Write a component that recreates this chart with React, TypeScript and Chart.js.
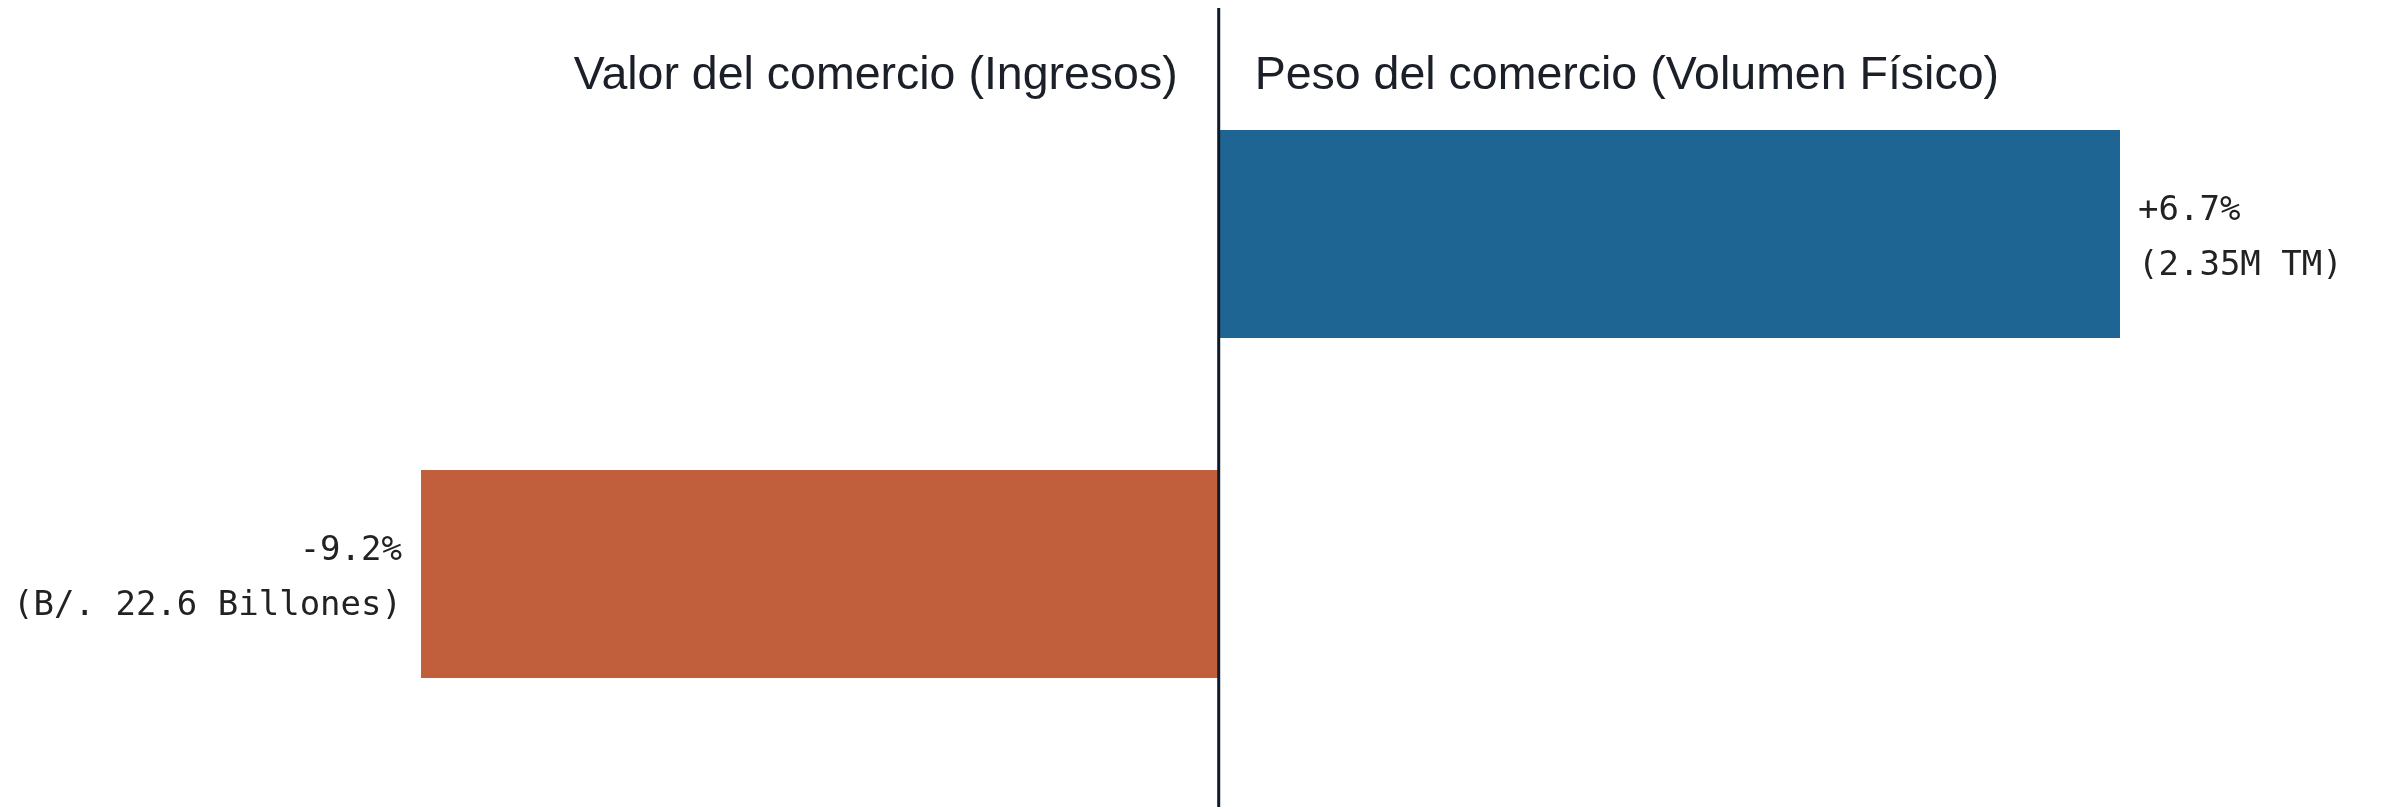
import React, { useEffect, useRef } from "react";
import { Chart, registerables } from "chart.js";

Chart.register(...registerables);

// ---- data ----
const categories = ["Peso del comercio (Volumen Físico)", "Valor del comercio (Ingresos)"];
const changePct = [6.7, -9.2];
const detailLabels = ["(2.35M TM)", "(B/. 22.6 Billones)"];
const barColors = ["#1f6593", "#c15f3c"];
const axisIds = ["xPos", "xNeg"];
// each measure has its own scale (both share zero)
const posAxisRange = [-5.93, 6.7];
const negAxisRange = [-9.2, 10.39];

const fmtPct = (v: number) => `${v > 0 ? "+" : ""}${v.toFixed(1)}%`;

const overlayPlugin = {
  id: "overlay",
  afterDatasetsDraw(chart: any) {
    const ctx = chart.ctx;
    const zeroX = chart.scales.xPos.getPixelForValue(0);
    ctx.save();
    // center divider
    ctx.strokeStyle = "#0e1a2b";
    ctx.lineWidth = 3;
    ctx.beginPath();
    ctx.moveTo(zeroX, 8);
    ctx.lineTo(zeroX, 807);
    ctx.stroke();

    chart.data.datasets.forEach((ds: any, i: number) => {
      const v = changePct[i];
      // header
      ctx.font = "46.5px 'Liberation Sans', Arial, sans-serif";
      ctx.fillStyle = "#1b1f27";
      ctx.textBaseline = "alphabetic";
      if (v < 0) {
        ctx.textAlign = "right";
        ctx.fillText(categories[i], zeroX - 41, 89);
      } else {
        ctx.textAlign = "left";
        ctx.fillText(categories[i], zeroX + 36, 89);
      }
      // value labels
      const meta = chart.getDatasetMeta(i);
      const bar = meta.data[i];
      if (!bar) return;
      ctx.font = "34px 'DejaVu Sans Mono', monospace";
      ctx.fillStyle = "#222222";
      const x = v < 0 ? bar.x - 19 : bar.x + 18;
      ctx.textAlign = v < 0 ? "right" : "left";
      ctx.fillText(fmtPct(v), x, bar.y - 14);
      ctx.fillText(detailLabels[i], x, bar.y + 41);
    });
    ctx.restore();
  },
};

export default function App() {
  const ref = useRef<HTMLCanvasElement | null>(null);

  useEffect(() => {
    if (!ref.current) return;
    const datasets = categories.map((c, i) => ({
      label: c,
      data: categories.map((_, j) => (j === i ? changePct[i] : null)),
      xAxisID: axisIds[i],
      backgroundColor: barColors[i],
      borderWidth: 0,
      skipNull: true,
      categoryPercentage: 0.612,
      barPercentage: 1,
    }));
    const chart = new Chart(ref.current, {
      type: "bar",
      data: { labels: categories, datasets },
      options: {
        indexAxis: "y",
        animation: false,
        responsive: false,
        layout: { padding: { left: 421, right: 277, top: 64, bottom: 65 } },
        plugins: { legend: { display: false }, tooltip: { enabled: false } },
        scales: {
          y: { type: "category", display: false },
          xPos: { type: "linear", min: posAxisRange[0], max: posAxisRange[1], display: false },
          xNeg: { type: "linear", min: negAxisRange[0], max: negAxisRange[1], display: false },
        },
      } as any,
      plugins: [overlayPlugin],
    });
    return () => chart.destroy();
  }, []);

  return (
    <div style={{ position: "fixed", left: 0, top: 0, width: 2397, height: 809, background: "#fff" }}>
      <canvas ref={ref} width={2397} height={809} />
    </div>
  );
}
